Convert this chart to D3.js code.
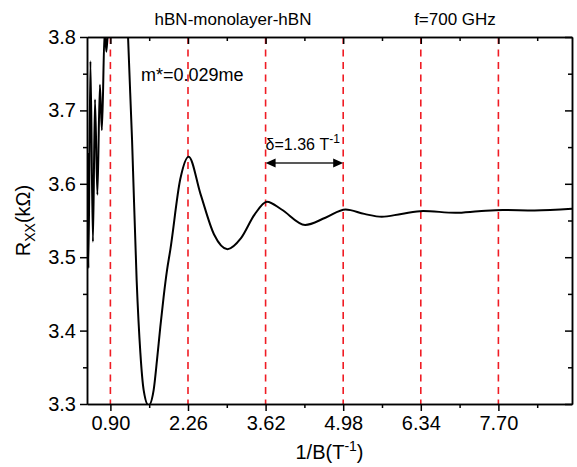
<!DOCTYPE html>
<html>
<head>
<meta charset="utf-8">
<script src="https://cdn.jsdelivr.net/npm/d3@7"></script>
<style>
  body { margin: 0; background: #fff; }
  svg text { font-family: "Liberation Sans", Arial, sans-serif; fill: #000; }
</style>
</head>
<body>
<div class="chart"></div>
<script>
// curve: 1/B (T^-1) vs Rxx (kOhm)
var invB = [0.50, 0.515, 0.55, 0.594, 0.630, 0.672, 0.716, 0.751, 0.80, 0.83, 0.87, 0.95, 1.05, 1.15,
            1.2095, 1.2795, 1.360, 1.425, 1.483, 1.570, 1.658, 1.717, 1.775, 1.833, 1.892, 1.950,
            2.125, 2.272, 2.480, 2.717, 2.953, 3.189, 3.426, 3.644, 3.900, 4.313, 4.668, 5.022,
            5.35, 5.655, 6.0, 6.382, 6.944, 7.35, 7.772, 8.334, 8.99];
var rxx = [3.642, 3.485, 3.767, 3.521, 3.715, 3.585, 3.735, 3.673, 3.81, 3.78, 3.83, 3.95, 4.05, 3.95,
           3.80, 3.66, 3.469, 3.37, 3.319, 3.298, 3.319, 3.36, 3.405, 3.446, 3.482, 3.51,
           3.6065, 3.637, 3.586, 3.531, 3.511, 3.526, 3.558, 3.5757, 3.565, 3.544, 3.5537, 3.565,
           3.559, 3.555, 3.559, 3.563, 3.5605, 3.5625, 3.5643, 3.5637, 3.566];

// tick positions (the dashed lines sit on the major ones)
var xMajor = [0.90, 2.26, 3.62, 4.98, 6.34, 7.70];
var xMinor = [1.58, 2.94, 4.30, 5.66, 7.02, 8.38];
var yMajor = [3.3, 3.4, 3.5, 3.6, 3.7, 3.8];
var yMinor = [3.35, 3.45, 3.55, 3.65, 3.75];
var period = [3.62, 4.98];   // delta = 1.36 T^-1

var margin = {top: 37, right: 5, bottom: 63, left: 87},
    width = 577 - margin.left - margin.right,
    height = 467 - margin.top - margin.bottom;

var x = d3.scaleLinear().domain([0.49, 8.99]).range([0, width]);
var y = d3.scaleLinear().domain([3.3, 3.8]).range([height, 0]);

var svg = d3.select(".chart").append("svg")
    .attr("width", 577)
    .attr("height", 467)
  .append("g")
    .attr("transform", "translate(" + margin.left + "," + margin.top + ")");

svg.append("clipPath").attr("id", "clip")
  .append("rect").attr("width", width).attr("height", height);

// red dashed guide lines
svg.selectAll(".guide")
    .data(xMajor)
  .enter().append("line")
    .attr("class", "guide")
    .attr("x1", function(d) { return x(d); })
    .attr("x2", function(d) { return x(d); })
    .attr("y1", 0)
    .attr("y2", height)
    .style("stroke", "#f01c24")
    .style("stroke-width", 1.6)
    .style("stroke-dasharray", "7,5.5");

// the curve
var pts = invB.map(function(d, i) { return [d, rxx[i]]; });
var valueline = d3.line()
    .x(function(d) { return x(d[0]); })
    .y(function(d) { return y(d[1]); })
    .curve(d3.curveMonotoneX);

svg.append("path")
    .datum(pts)
    .attr("clip-path", "url(#clip)")
    .attr("d", valueline)
    .style("fill", "none")
    .style("stroke", "#000")
    .style("stroke-width", 2);

// axes: bottom/left outward, top/right inward
function styleAxis(g) {
  g.selectAll("path, line").style("stroke", "#000").style("stroke-width", 1.5);
  g.selectAll("text").style("font-size", "20px").style("font-family", "Liberation Sans, Arial, sans-serif");
}

svg.append("g")
    .attr("transform", "translate(0," + height + ")")
    .call(d3.axisBottom(x).tickValues(xMajor).tickFormat(d3.format(".2f")).tickSize(7).tickSizeOuter(0).tickPadding(5))
    .call(styleAxis);
svg.append("g")
    .attr("transform", "translate(0," + height + ")")
    .call(d3.axisBottom(x).tickValues(xMinor).tickFormat("").tickSize(4).tickSizeOuter(0))
    .call(styleAxis);

svg.append("g")
    .call(d3.axisTop(x).tickValues(xMajor).tickFormat("").tickSize(-7).tickSizeOuter(0))
    .call(styleAxis);
svg.append("g")
    .call(d3.axisTop(x).tickValues(xMinor).tickFormat("").tickSize(-4).tickSizeOuter(0))
    .call(styleAxis);

svg.append("g")
    .call(d3.axisLeft(y).tickValues(yMajor).tickFormat(d3.format(".1f")).tickSize(7).tickSizeOuter(0).tickPadding(4))
    .call(styleAxis);
svg.append("g")
    .call(d3.axisLeft(y).tickValues(yMinor).tickFormat("").tickSize(4).tickSizeOuter(0))
    .call(styleAxis);

svg.append("g")
    .attr("transform", "translate(" + width + ",0)")
    .call(d3.axisRight(y).tickValues(yMajor).tickFormat("").tickSize(-7).tickSizeOuter(0))
    .call(styleAxis);
svg.append("g")
    .attr("transform", "translate(" + width + ",0)")
    .call(d3.axisRight(y).tickValues(yMinor).tickFormat("").tickSize(-4).tickSizeOuter(0))
    .call(styleAxis);

// period arrow
var ay = 126;
var ax1 = x(period[0]), ax2 = x(period[1]);
svg.append("line")
    .attr("x1", ax1 + 6).attr("x2", ax2 - 6)
    .attr("y1", ay).attr("y2", ay)
    .style("stroke", "#222")
    .style("stroke-width", 1.5);
svg.append("path")
    .attr("d", "M" + ax1 + "," + ay + "L" + (ax1 + 10) + "," + (ay - 4.5) + "L" + (ax1 + 10) + "," + (ay + 4.5) + "Z"
             + "M" + ax2 + "," + ay + "L" + (ax2 - 10) + "," + (ay - 4.5) + "L" + (ax2 - 10) + "," + (ay + 4.5) + "Z")
    .style("fill", "#000");

var dt = svg.append("text")
    .attr("x", ax1)
    .attr("y", 113)
    .style("font-size", "16px");
dt.append("tspan").text("\u03B4=1.36 T");
dt.append("tspan").attr("dy", -7).style("font-size", "12px").text("-1");

// labels
svg.append("text")
    .attr("x", 54)
    .attr("y", 44)
    .style("font-size", "18px")
    .text("m*=0.029me");

svg.append("text")
    .attr("x", 146)
    .attr("y", -12)
    .attr("text-anchor", "middle")
    .style("font-size", "17px")
    .text("hBN-monolayer-hBN");

svg.append("text")
    .attr("x", 368)
    .attr("y", -12)
    .attr("text-anchor", "middle")
    .style("font-size", "17px")
    .text("f=700 GHz");

var xl = svg.append("text")
    .attr("x", width / 2)
    .attr("y", height + 55)
    .attr("text-anchor", "middle")
    .style("font-size", "20px");
xl.append("tspan").text("1/B(T");
xl.append("tspan").attr("dy", -8).style("font-size", "14px").text("-1");
xl.append("tspan").attr("dy", 8).text(")");

var yl = svg.append("text")
    .attr("transform", "translate(-57," + (height / 2) + ") rotate(-90)")
    .attr("text-anchor", "middle")
    .style("font-size", "20px");
yl.append("tspan").text("R");
yl.append("tspan").attr("dy", 5).style("font-size", "14px").text("XX");
yl.append("tspan").attr("dy", -5).text("(k\u03A9)");
</script>
</body>
</html>
